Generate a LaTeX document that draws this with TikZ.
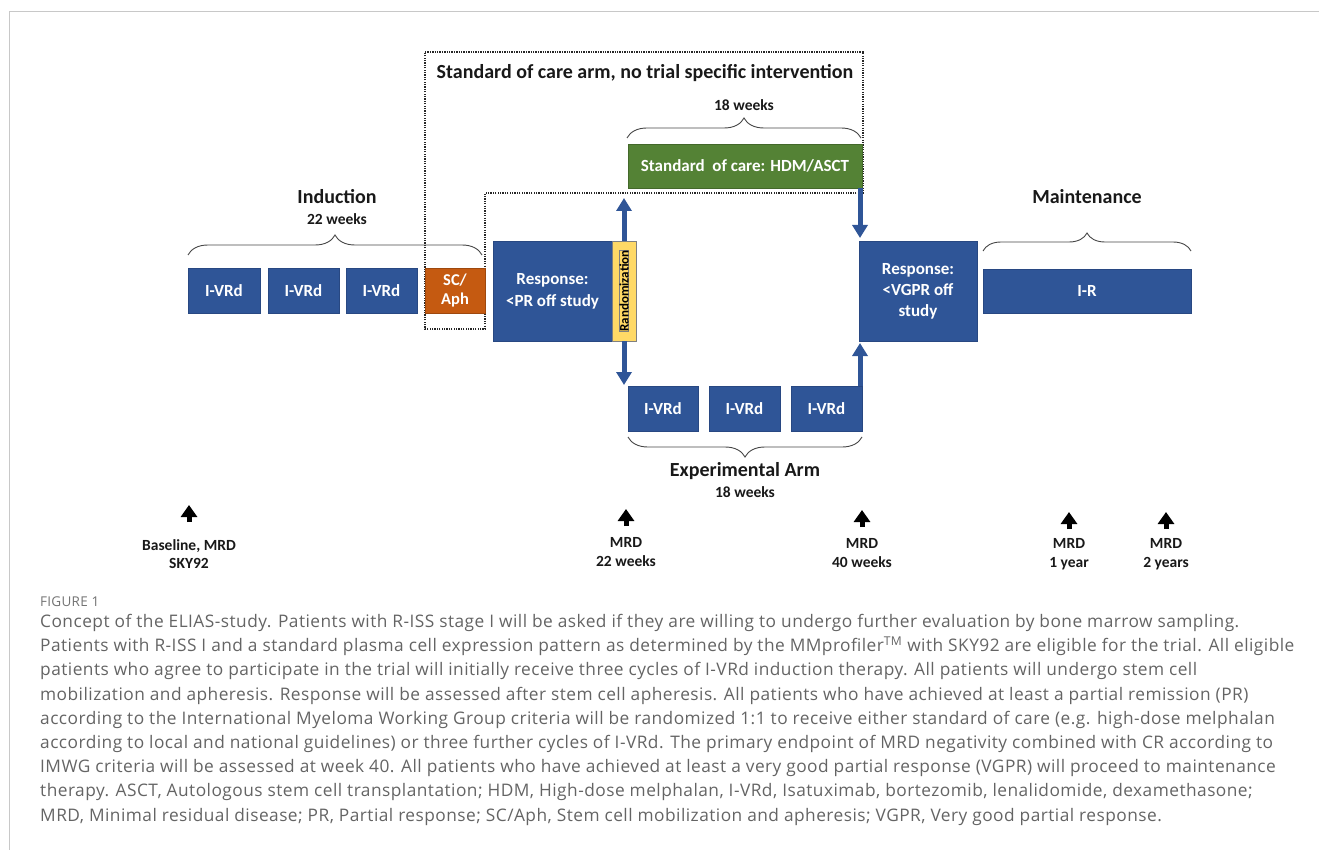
\documentclass[tikz,border=0pt]{standalone}
\usepackage{fontspec}
\setmainfont{Carlito}
\newfontfamily\capfont[LetterSpace=2.7]{Open Sans}
\newfontfamily\figfont[LetterSpace=2]{Open Sans}
\usetikzlibrary{arrows.meta,decorations.pathreplacing}
\definecolor{boxblue}{RGB}{47,85,151}
\definecolor{blueedge}{RGB}{40,72,130}
\definecolor{soc}{RGB}{84,130,53}
\definecolor{scorange}{RGB}{197,90,17}
\definecolor{randyellow}{RGB}{255,217,102}
\definecolor{capgray}{RGB}{100,100,100}
\definecolor{figgray}{RGB}{115,115,115}
\definecolor{framegray}{RGB}{200,200,200}
\definecolor{bracegray}{RGB}{70,70,70}
\begin{document}
\begin{tikzpicture}[x=1pt,y=-1pt,
  bluebox/.style={draw=blueedge, line width=0.8, fill=boxblue, text=white,
    font=\bfseries\fontsize{17}{21}\selectfont, inner sep=0, align=center},
  greenbox/.style={draw=soc!80!black, line width=0.8, fill=soc, text=white,
    font=\bfseries\fontsize{17}{21}\selectfont, inner sep=0, align=center},
  orangebox/.style={draw=scorange!80!black, line width=0.8, fill=scorange, text=white,
    font=\bfseries\fontsize{16.5}{19}\selectfont, inner sep=0, align=center},
  randbox/.style={draw=gray, line width=0.8, fill=randyellow, text=black,
    font=\bfseries\fontsize{13}{15}\selectfont, inner sep=0},
  heading/.style={font=\bfseries\fontsize{20}{24}\selectfont, inner sep=0, text=black!90},
  weeks/.style={font=\bfseries\fontsize{15.5}{18}\selectfont, inner sep=0, text=black!90},
  mrdlabel/.style={font=\bfseries\fontsize{15.5}{18.5}\selectfont, inner sep=0, align=center, text=black!90},
  flow/.style={draw=boxblue, line width=5, -{Triangle[width=15pt,length=13pt]}},
  marker/.style={draw=black, line width=5, -{Triangle[width=16pt,length=12pt]}},
  bracestyle/.style={draw=bracegray, line width=0.9, decorate},
  dottedline/.style={draw=black!85, line width=1.3, dash pattern=on 1.3pt off 1.1pt}
]
\useasboundingbox (0,0) rectangle (1319,850);
% figure frame
\draw[framegray, line width=1.3] (9.5,850) -- (9.5,11.5) -- (1319,11.5);

% dotted outline of standard of care arm
\draw[dottedline] (425,52) -- (863,52) -- (863,193) -- (485,193) -- (485,329) -- (425,329) -- cycle;
\node[heading] (soctitle) at (645,73) {Standard of care arm, no trial specific intervention};

% induction
\node[bluebox, minimum width=72, minimum height=45] (v1) at (224,290.5) {I-VRd};
\node[bluebox, minimum width=71, minimum height=45] (v2) at (303.5,290.5) {I-VRd};
\node[bluebox, minimum width=71, minimum height=45] (v3) at (381.5,290.5) {I-VRd};
\node[orangebox, minimum width=60, minimum height=45] (sc) at (455,290.5) {SC/\\Aph};
\node[heading] (induction) at (337,197) {Induction};
\node[weeks] (indweeks) at (337,219) {22 weeks};
\coordinate (indL) at (188,255);
\coordinate (indR) at (482,255);
\draw[bracestyle, decoration={brace, amplitude=20pt}] (indL) -- (indR);

% response / randomization
\node[bluebox, minimum width=119, minimum height=100, font=\bfseries\fontsize{17}{22}\selectfont] (resp1) at (552.5,291) {Response:\\<PR off study};
\node[randbox, minimum width=24, minimum height=100] (rand) at (624,291) {};
\node[randbox, rotate=90] (randtext) at (rand.center) {Randomization};

% standard of care
\node[greenbox, minimum width=234, minimum height=44] (green) at (745,166) {Standard\ \ of care: HDM/ASCT};
\node[weeks] (socweeks) at (744,105) {18 weeks};
\coordinate (socL) at (627,138);
\coordinate (socR) at (861,138);
\draw[bracestyle, decoration={brace, amplitude=20pt}] (socL) -- (socR);

% experimental arm
\node[bluebox, minimum width=70, minimum height=45] (b1) at (663,408.5) {I-VRd};
\node[bluebox, minimum width=71, minimum height=45] (b2) at (744.5,408.5) {I-VRd};
\node[bluebox, minimum width=71, minimum height=45] (b3) at (826.5,408.5) {I-VRd};
\coordinate (expL) at (628,437);
\coordinate (expR) at (862,437);
\draw[bracestyle, decoration={brace, amplitude=20pt}] (expR) -- (expL);
\node[heading] (exparm) at (745,471) {Experimental Arm};
\node[weeks] (expweeks) at (745,492) {18 weeks};

% response 2 and maintenance
\node[bluebox, minimum width=118, minimum height=100] (resp2) at (918,291) {Response:\\<VGPR off\\study};
\node[bluebox, minimum width=208, minimum height=44] (ir) at (1087,291) {I-R};
\node[heading] (maint) at (1087,197) {Maintenance};
\coordinate (mL) at (983,251);
\coordinate (mR) at (1191,251);
\draw[bracestyle, decoration={brace, amplitude=18pt}] (mL) -- (mR);

% flow arrows
\coordinate (upTip) at (624,198);
\coordinate (downTip) at (624,385);
\draw[flow] (rand.north) -- (upTip);
\draw[flow] (rand.south) -- (downTip);
\coordinate (gOut) at (860,188);
\coordinate (r2In) at (860,238);
\draw[flow] (gOut) -- (r2In);
\coordinate (b3Out) at (860,386);
\coordinate (r2InB) at (860,343);
\draw[flow] (b3Out) -- (r2InB);

% MRD markers
\node[mrdlabel] (m0) at (189,554) {Baseline, MRD\\SKY92};
\node[mrdlabel] (m1) at (626,552) {MRD\\22 weeks};
\node[mrdlabel] (m2) at (862,553) {MRD\\40 weeks};
\node[mrdlabel] (m3) at (1069,554) {MRD\\1 year};
\node[mrdlabel] (m4) at (1166,554) {MRD\\2 years};
\coordinate (a0s) at (189,522); \coordinate (a0e) at (189,505);
\coordinate (a1s) at (626,526); \coordinate (a1e) at (626,509);
\coordinate (a2s) at (862,527); \coordinate (a2e) at (862,510);
\coordinate (a3s) at (1069,529); \coordinate (a3e) at (1069,512);
\coordinate (a4s) at (1166,529); \coordinate (a4e) at (1166,512);
\draw[marker] (a0s) -- (a0e);
\draw[marker] (a1s) -- (a1e);
\draw[marker] (a2s) -- (a2e);
\draw[marker] (a3s) -- (a3e);
\draw[marker] (a4s) -- (a4e);

% caption
\node[anchor=base west, inner sep=0, font=\figfont\fontsize{13.5}{15}\selectfont, text=figgray] (fig) at (40,606) {FIGURE 1};
\node[anchor=north west, inner sep=0, align=left, text=capgray,
  font=\capfont\fontsize{17.3}{24.2}\selectfont] (cap) at (40,614) {%
Concept of the ELIAS-study. Patients with R-ISS stage I will be asked if they are willing to undergo further evaluation by bone marrow sampling.\\
Patients with R-ISS I and a standard plasma cell expression pattern as determined by the MMprofiler\textsuperscript{TM} with SKY92 are eligible for the trial. All eligible\\
patients who agree to participate in the trial will initially receive three cycles of I-VRd induction therapy. All patients will undergo stem cell\\
mobilization and apheresis. Response will be assessed after stem cell apheresis. All patients who have achieved at least a partial remission (PR)\\
according to the International Myeloma Working Group criteria will be randomized 1:1 to receive either standard of care (e.g. high-dose melphalan\\
according to local and national guidelines) or three further cycles of I-VRd. The primary endpoint of MRD negativity combined with CR according to\\
IMWG criteria will be assessed at week 40. All patients who have achieved at least a very good partial response (VGPR) will proceed to maintenance\\
therapy. ASCT, Autologous stem cell transplantation; HDM, High-dose melphalan, I-VRd, Isatuximab, bortezomib, lenalidomide, dexamethasone;\\
MRD, Minimal residual disease; PR, Partial response; SC/Aph, Stem cell mobilization and apheresis; VGPR, Very good partial response.};
\end{tikzpicture}
\end{document}
